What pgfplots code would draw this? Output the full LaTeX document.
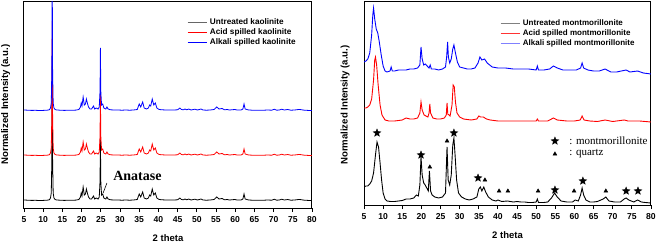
\documentclass[border=0pt]{standalone}
\usepackage{fontspec}
\setmainfont{Liberation Sans}
\newfontfamily\serifont{Liberation Serif}
\usepackage{pgfplots}
\pgfplotsset{compat=1.18}
\usepackage{pgfplotstable}

\pgfdeclareplotmark{fstar}{%
  \pgfpathmoveto{\pgfpointpolar{90}{\pgfplotmarksize}}%
  \pgfpathlineto{\pgfpointpolar{126}{0.42\pgfplotmarksize}}%
  \pgfpathlineto{\pgfpointpolar{162}{\pgfplotmarksize}}%
  \pgfpathlineto{\pgfpointpolar{198}{0.42\pgfplotmarksize}}%
  \pgfpathlineto{\pgfpointpolar{234}{\pgfplotmarksize}}%
  \pgfpathlineto{\pgfpointpolar{270}{0.42\pgfplotmarksize}}%
  \pgfpathlineto{\pgfpointpolar{306}{\pgfplotmarksize}}%
  \pgfpathlineto{\pgfpointpolar{342}{0.42\pgfplotmarksize}}%
  \pgfpathlineto{\pgfpointpolar{18}{\pgfplotmarksize}}%
  \pgfpathlineto{\pgfpointpolar{54}{0.42\pgfplotmarksize}}%
  \pgfpathclose\pgfusepathqfillstroke}

% kaolinite: x, untreated, acid, alkali
\pgfplotstableread{
x k0 k1 k2
5.0 8.0 53.0 98.0
6.0 7.8 52.8 97.8
7.0 7.6 52.6 97.6
8.0 7.7 52.7 97.7
9.0 7.5 52.5 97.5
10.0 7.6 52.6 97.6
11.0 7.8 52.8 97.8
11.6 8.2 53.2 98.2
11.9 10 55 100
12.1 15 60 105
12.25 47 92 137
12.35 142 187 232
12.45 47 92 137
12.6 15 60 105
12.8 10 55 100
13.1 8.5 53.5 98.5
13.5 8 53 98
14.5 7.8 52.8 97.8
15.5 7.6 52.6 97.6
16.5 7.8 52.8 97.8
17.5 7.7 52.7 97.7
18.5 7.9 52.9 97.9
19.3 8.5 53.5 98.5
19.7 11 56 101
19.9 15 60 105
20.1 12 57 102
20.4 21 66 111
20.7 13 58 103
21.0 14 59 104
21.25 19 64 109
21.5 15 60 105
21.8 11 56 101
22.2 9 54 99
22.6 9 54 99
23.1 12 57 102
23.4 9 54 99
23.8 10 55 100
24.3 9 54 99
24.6 11 56 101
24.8 27 72 117
24.9 70 115 160
25.0 27 72 117
25.2 13 58 103
25.5 14 59 104
25.8 10 55 100
26.3 9 54 99
26.6 11 56 101
26.9 9 54 99
27.5 8.2 53.2 98.2
28.5 8 53 98
29.5 8 53 98
30.5 7.8 52.8 97.8
31.5 8 53 98
32.5 7.8 52.8 97.8
33.5 8 53 98
34.5 8.5 53.5 98.5
35.0 14 59 104
35.4 11 56 101
35.9 16 61 106
36.3 10 55 100
36.9 9 54 99
37.4 10 55 100
37.7 13 58 103
38.0 12 57 102
38.4 19 64 109
38.8 13 58 103
39.2 15 60 105
39.6 10 55 100
40.2 8.5 53.5 98.5
41.0 8.2 53.2 98.2
42.0 8 53 98
43.0 8 53 98
44.0 8 53 98
45.0 8.2 53.2 98.2
45.6 10 55 100
46.0 8.5 53.5 98.5
46.5 8.2 53.2 98.2
46.9 9 54 99
47.4 8.2 53.2 98.2
47.9 9 54 99
48.5 8 53 98
49.5 8.8 53.8 98.8
50.2 8 53 98
51.1 9 54 99
51.6 8 53 98
52.5 7.8 52.8 97.8
53.5 8 53 98
54.5 8.5 53.5 98.5
55.2 11 56 101
55.8 9 54 99
56.6 9.5 54.5 99.5
57.2 8.2 53.2 98.2
57.9 8.5 53.5 98.5
58.5 8 53 98
59.9 8.5 53.5 98.5
60.5 8 53 98
61.5 8 53 98
62.0 9 54 99
62.3 14 59 104
62.6 9 54 99
63.5 8 53 98
64.5 7.8 52.8 97.8
65.5 7.8 52.8 97.8
66.5 7.8 52.8 97.8
67.5 7.8 52.8 97.8
68.5 8 53 98
69.5 7.8 52.8 97.8
70.2 8.8 53.8 98.8
70.8 7.8 52.8 97.8
71.5 8 53 98
72.1 8.8 53.8 98.8
72.8 8 53 98
73.7 8.5 53.5 98.5
74.5 7.8 52.8 97.8
75.5 8 53 98
76.5 8.5 53.5 98.5
77.0 8.4 53.4 98.4
78.0 7.8 52.8 97.8
79.0 7.6 52.6 97.6
80.0 7.5 52.5 97.5
}\kaol

% montmorillonite untreated
\pgfplotstableread{
x y
5.0 18
5.5 19
6.0 19
6.5 21
7.0 24
7.5 32
8.0 50
8.4 63
8.8 58
9.2 42
9.6 25
10.0 12
10.5 6
11.0 4
12 3.5
13 3.5
14 4
15 4.5
16 6
17 6
18 7
18.7 10
19.2 9
19.6 20
19.9 48
20.2 30
20.6 22
21.0 20
21.4 17
21.8 14
22.1 34
22.4 14
22.8 10
23.5 8
24.5 7
25.5 8
26.3 12
26.7 58
27.0 25
27.4 20
27.8 30
28.2 60
28.5 67
28.8 50
29.2 25
29.7 12
30.5 8
31.5 6
32.5 5
33.5 6
34.5 8
35.0 16
35.4 18
35.8 14
36.3 18
36.8 13
37.5 8
38.5 5
39.5 4
40.0 5
41 3.5
42.5 4
44 3
45 3.5
46 3
47 3
48 2.5
49 2.5
50.0 3
50.3 6
50.6 2.5
52 2.5
53 3
54 7
54.8 12
55.5 8
56.5 4
58 3
59.5 3
60.2 5
61.0 4
61.6 10
62.0 17
62.4 10
63.0 5
64 3
65 3
66 3.5
67.5 6
68.2 8
69 4
70.5 3
72.0 3
73.0 6
73.5 7
74.2 5
75.5 3
76.5 5
77.5 3
78.5 2.5
80 2
}\mont

% montmorillonite acid
\pgfplotstableread{
x y
5.0 97
5.5 97
6.0 98
6.5 100
7.0 106
7.5 125
7.8 145
8.0 148
8.3 140
8.7 120
9.2 100
9.7 90
10.5 85
11.5 84
13 84
15 85
16 87
17 86
18 86
19 87
19.6 92
19.9 103
20.2 95
20.7 90
21.2 89
21.7 88
22.0 92
22.2 101
22.4 92
23 87
24 86
25 86
26 87
26.5 90
26.7 102
26.9 91
27.5 89
28.0 100
28.3 120
28.6 118
28.9 103
29.3 92
30 88
31 86
33 85
34.5 86
35.0 89
35.5 88
36.2 88
37 86
38 85
40 84
42 84
45 84
48 84
50 84
50.3 86
50.6 84
53 84
54.5 87
55.5 85
58 84
60 84
61.5 85
62.0 89
62.5 85
64 84
66 83.5
68 85
70 83.5
73 85
74 84
77 84
80 83
}\acid

% montmorillonite alkali
\pgfplotstableread{
x y
5.0 143
5.5 144
6.0 146
6.5 152
7.0 170
7.3 190
7.5 197
7.8 186
8.2 176
8.6 172
9.0 163
9.5 150
10.0 139
10.5 134
11.0 133
11.8 134
12.1 138
12.4 134
13 134
14 135
15 135
16 135
17 136
18 136
19 137
19.6 140
19.9 158
20.2 146
20.6 140
21.0 141
21.5 139
22.0 137
22.3 140
22.6 136
23.5 136
24.5 135
25.5 136
26.3 138
26.6 148
26.85 163
27.05 148
27.4 142
27.8 146
28.2 156
28.5 160
28.9 152
29.4 143
30 138
31 137
32 136
33 136
34 137
34.8 142
35.3 148
35.8 145
36.5 146
37.2 142
38.5 138
40 137
42 137
44 136
46 136
48 136
50 135
50.3 139
50.6 135
52 135
53.5 136
54.5 139
55.5 137
57 135
59 135
60.5 135
61.6 137
62.0 142
62.4 137
63.5 135
65 134
66.5 134
68 136
69.5 133
71 133
73.5 135
74.5 133
76.5 134
78 132
80 131
}\alka

\pgfplotsset{
  xrdaxis/.style={
    scale only axis, anchor=south west,
    xmin=5, xmax=80, xtick={5,10,...,80},
    ytick=\empty, xtick pos=bottom, tick align=outside,
    major tick length=4pt,
    tick style={black, line width=0.9pt},
    axis line style={line width=1pt},
    /pgf/number format/assume math mode=true,
    xticklabel style={font=\bfseries\fontsize{8.6}{9}\selectfont, yshift=-1pt},
    xlabel={2 theta},
    xlabel style={font=\bfseries\fontsize{9.5}{10}\selectfont, at={(axis description cs:0.5,0)}, anchor=center, yshift=-30pt},
    ylabel={Normalized Intensity (a.u.)},
    ylabel style={font=\bfseries\fontsize{9.6}{10}\selectfont, anchor=center},
    legend cell align=left,
    legend image code/.code={\draw[##1,line width=1pt] (0pt,0pt) -- (19pt,0pt); \path (21pt,0pt);},
  }
}

\begin{document}
\begin{tikzpicture}
\path[use as bounding box] (0,0) rectangle (657pt,242pt);
\begin{axis}[xrdaxis, at={(24pt,34pt)}, width=288pt, height=207pt, ymin=0, ymax=207,
  ylabel style={at={(axis description cs:-0.064,0.5)}},
  legend style={draw=none, fill=none, at={(0.566,0.9215)}, anchor=north west, inner sep=0pt,
    font=\bfseries\fontsize{8.2}{8}\selectfont,
    nodes={inner sep=1pt, text height=6pt, text depth=1.5pt}, row sep=0.5pt}]
\addlegendimage{color=black!60}
\addlegendentry{Untreated kaolinite}
\addlegendimage{color=red}
\addlegendentry{Acid spilled kaolinite}
\addlegendimage{color=blue}
\addlegendentry{Alkali spilled kaolinite}
\addplot[forget plot, black, line width=0.8pt] table[x=x,y=k0] {\kaol};
\addplot[forget plot, red, line width=0.8pt] table[x=x,y=k1] {\kaol};
\addplot[forget plot, blue, line width=0.8pt] table[x=x,y=k2] {\kaol};
\draw[line width=0.6pt] (axis cs:26.6,25) -- (axis cs:25.6,15);
\node[anchor=west, font=\serifont\bfseries\fontsize{14}{14}\selectfont, inner sep=0pt] at (axis cs:28.2,32) {Anatase};
\end{axis}

\begin{axis}[xrdaxis, at={(364pt,37pt)}, width=287pt, height=204pt, ymin=0, ymax=204,
  ylabel style={at={(axis description cs:-0.066,0.49)}},
  legend style={draw=none, fill=none, at={(0.474,0.9154)}, anchor=north west, inner sep=0pt,
    font=\bfseries\fontsize{8}{8}\selectfont,
    nodes={inner sep=1pt, text height=6pt, text depth=1.5pt}, row sep=0.5pt}]
\addlegendimage{color=black!50}
\addlegendentry{Untreated montmorillonite}
\addlegendimage{color=red!80}
\addlegendentry{Acid spilled montmorillonite}
\addlegendimage{color=blue!50}
\addlegendentry{Alkali spilled montmorillonite}
\addplot[forget plot, black, line width=0.9pt] table[x=x,y=y] {\mont};
\addplot[forget plot, red, line width=0.9pt] table[x=x,y=y] {\acid};
\addplot[forget plot, blue, line width=0.9pt] table[x=x,y=y] {\alka};
\addplot[forget plot, only marks, mark=fstar, mark size=4pt, black] coordinates {
 (8.4,72) (19.9,50) (28.5,72) (34.8,27) (54.9,15) (62.2,24) (73.5,14) (76.6,14) (54.9,64)};
\addplot[forget plot, only marks, mark=triangle*, mark size=2.2pt, black] coordinates {
 (26.7,64) (22.2,38) (36.6,25) (40.3,14) (42.6,14) (50.5,14) (59.9,14) (68.2,14) (54.9,51)};
\node[anchor=west, font=\serifont\fontsize{11}{11}\selectfont, inner sep=0pt] at (axis cs:58.6,64) {: montmorillonite};
\node[anchor=west, font=\serifont\fontsize{11}{11}\selectfont, inner sep=0pt] at (axis cs:58.6,51) {: quartz};
\end{axis}
\end{tikzpicture}
\end{document}
